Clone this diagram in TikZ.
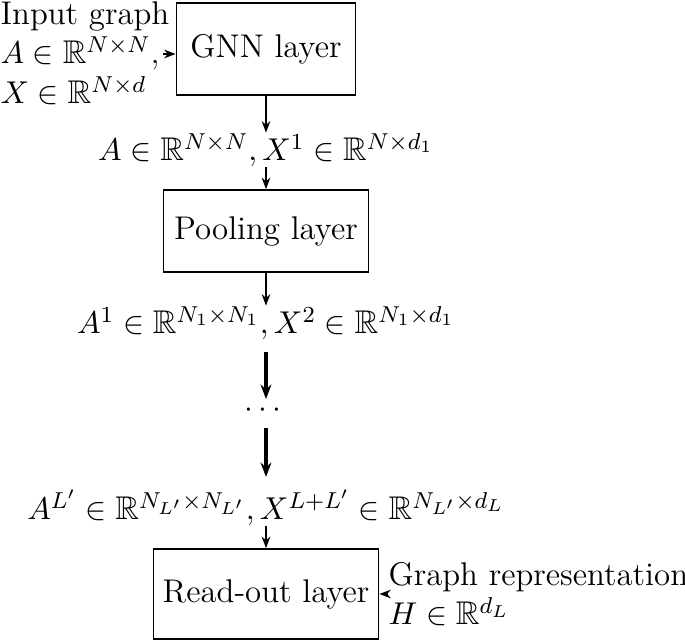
\documentclass[tikz,border=0pt]{standalone}
\usepackage{amsmath,amssymb}
\usetikzlibrary{arrows.meta, positioning}

\begin{document}
\begin{tikzpicture}[x=0.0122cm, y=-0.0122cm, font=\fontsize{11.4}{13.8}\selectfont,
    layer/.style={draw, semithick, inner sep=0pt},
    lbl/.style={inner sep=0pt},
    flow/.style={-{Stealth[length=4pt]}, semithick},
    bigflow/.style={-{Stealth[length=5pt]}, line width=1.2pt} ]
    \useasboundingbox (0,0) rectangle (685,641);
    % Layers
    \node[layer, minimum width=179*0.0122cm, minimum height=92*0.0122cm] (gnn) at (266,49) {GNN layer};
    \node[layer, minimum width=205*0.0122cm, minimum height=82*0.0122cm] (pool) at (266,231) {Pooling layer};
    \node[layer, minimum width=225*0.0122cm, minimum height=90*0.0122cm] (readout) at (266,594) {Read-out layer};

    % Input and output texts
    \node[lbl, align=left, anchor=west] (input) at (0,53) {Input graph\\$A\in\mathbb{R}^{N\times N}$,\\$X\in\mathbb{R}^{N\times d}$};
    \node[lbl, align=left, anchor=west] (output) at (388,594) {Graph representation\\$H\in\mathbb{R}^{d_L}$};

    % Intermediate labels
    \node[lbl] (s1) at (266,150) {$A\in\mathbb{R}^{N\times N}, X^1\in\mathbb{R}^{N\times d_1}$};
    \node[lbl] (s2) at (266,323) {$A^1\in\mathbb{R}^{N_1\times N_1}, X^2\in\mathbb{R}^{N_1\times d_1}$};
    \node[lbl] (dots) at (266,410) {$\cdots$};
    \node[lbl] (s3) at (266,508) {$A^{L'}\in\mathbb{R}^{N_{L'}\times N_{L'}}, X^{L+L'}\in\mathbb{R}^{N_{L'}\times d_L}$};

    % Connectors
    \coordinate (inarr) at (163,54);
    \coordinate (b1) at (266,352);
    \coordinate (b2) at (266,399);
    \coordinate (b3) at (266,428);
    \coordinate (b4) at (266,477);
    \draw[flow] (inarr) -- (gnn.west |- inarr);
    \draw[flow] (gnn) -- (s1);
    \draw[flow] (s1) -- (pool);
    \draw[flow] (pool) -- (s2);
    \draw[bigflow] (b1) -- (b2);
    \draw[bigflow] (b3) -- (b4);
    \draw[flow] (s3) -- (readout);
    \draw[flow] (output) -- (readout);
\end{tikzpicture}
\end{document}
